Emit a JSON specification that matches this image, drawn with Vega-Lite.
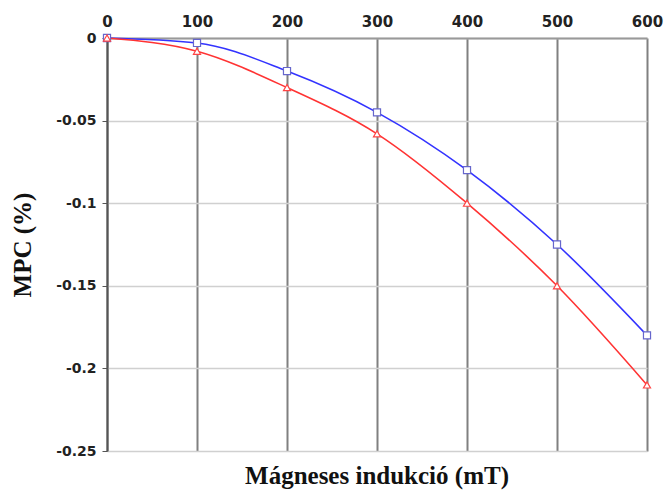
{
  "$schema": "https://vega.github.io/schema/vega-lite/v6.json",
  "autosize": {"type": "none"},
  "padding": {"left": 107, "top": 38, "right": 17, "bottom": 44},
  "width": 540,
  "height": 413,
  "background": "white",
  "title": {"text": "Mágneses indukció (mT)", "orient": "bottom", "font": "Liberation Serif", "fontSize": 25, "fontWeight": "bold", "color": "#111", "offset": 6, "anchor": "middle"},
  "config": {"view": {"stroke": "#d0d0d0", "strokeWidth": 1}},
  "data": {"values": [
    {"B": 0, "MPC": 0, "s": "a"},
    {"B": 100, "MPC": -0.003, "s": "a"},
    {"B": 200, "MPC": -0.02, "s": "a"},
    {"B": 300, "MPC": -0.045, "s": "a"},
    {"B": 400, "MPC": -0.08, "s": "a"},
    {"B": 500, "MPC": -0.125, "s": "a"},
    {"B": 600, "MPC": -0.18, "s": "a"},
    {"B": 0, "MPC": 0, "s": "b"},
    {"B": 100, "MPC": -0.008, "s": "b"},
    {"B": 200, "MPC": -0.03, "s": "b"},
    {"B": 300, "MPC": -0.058, "s": "b"},
    {"B": 400, "MPC": -0.1, "s": "b"},
    {"B": 500, "MPC": -0.15, "s": "b"},
    {"B": 600, "MPC": -0.21, "s": "b"}
  ]},
  "encoding": {
    "x": {"field": "B", "type": "quantitative", "scale": {"domain": [0, 600], "nice": false},
      "axis": {"orient": "top", "values": [0, 100, 200, 300, 400, 500, 600], "title": null, "labelFlush": false, "labelOverlap": false,
        "labelFont": "DejaVu Sans", "labelFontSize": 15, "labelFontWeight": "bold", "labelColor": "#222",
        "domainColor": "#999", "domainWidth": 2, "ticks": false, "labelPadding": 9,
        "grid": true, "gridColor": "#808080", "gridWidth": 2}},
    "y": {"field": "MPC", "type": "quantitative", "scale": {"domain": [-0.25, 0], "nice": false},
      "axis": {"values": [0, -0.05, -0.1, -0.15, -0.2, -0.25], "labelExpr": "datum.value + ''", "title": "MPC (%)", "labelFlush": false,
        "titleFont": "Liberation Serif", "titleFontSize": 25, "titleFontWeight": "bold", "titleColor": "#111", "titlePadding": 20,
        "labelFont": "DejaVu Sans", "labelFontSize": 14, "labelFontWeight": "bold", "labelColor": "#222",
        "domainColor": "#555", "domainWidth": 2, "tickColor": "#555", "tickSize": 5, "labelPadding": 6,
        "grid": true, "gridColor": "#d0d0d0", "gridWidth": 1.5}},
    "color": {"field": "s", "type": "nominal", "scale": {"domain": ["a", "b"], "range": ["#3333ff", "#ff3333"]}, "legend": null}
  },
  "layer": [
    {"mark": {"type": "line", "interpolate": "monotone", "strokeWidth": 1.6}},
    {"mark": {"type": "point", "filled": true, "fill": "white", "strokeWidth": 1.2, "size": 50, "opacity": 1},
      "encoding": {"stroke": {"field": "s", "type": "nominal", "scale": {"domain": ["a", "b"], "range": ["#6666cc", "#ff4444"]}, "legend": null},
        "shape": {"field": "s", "type": "nominal", "scale": {"domain": ["a", "b"], "range": ["square", "triangle-up"]}, "legend": null}}}
  ]
}
